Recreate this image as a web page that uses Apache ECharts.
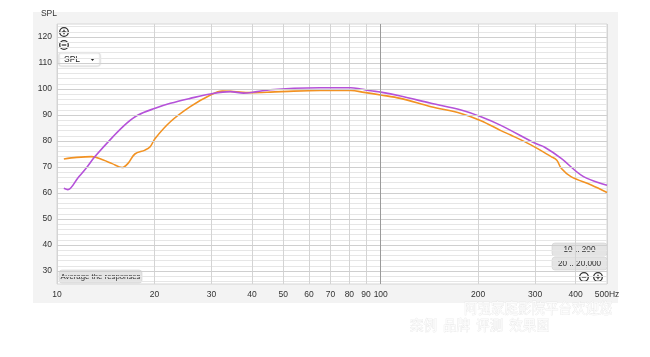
<!DOCTYPE html>
<html><head><meta charset="utf-8">
<script src="https://cdn.jsdelivr.net/npm/echarts@6/dist/echarts.min.js"></script>
<style>html,body{margin:0;padding:0;background:#fff}#c{width:650px;height:357px}</style>
</head><body><div id="c"></div>
<script>
// x tick values (Hz) and labels
const freqTicks = [10,20,30,40,50,60,70,80,90,100,200,300,400,500];
const freqTickLabels = ['10','20','30','40','50','60','70','80','90','100','200','300','400','500Hz'];
const splTicks = [30,40,50,60,70,80,90,100,110,120];
const splMinor = [26,28,30,32,34,36,38,40,42,44,46,48,50,52,54,56,58,60,62,64,66,68,70,72,74,76,78,80,82,84,86,88,90,92,94,96,98,100,102,104,106,108,110,112,114,116,118,120,122,124];

// purple response
const purpleFreq = [10.5,10.8,11.6,12.3,13.1,14.9,16.4,17.8,20.1,22.4,25.8,29.8,34.3,37.7,41.5,45.6,53.9,65,80.8,86.7,93.1,100,115,143,177,204,235,300,321,361,416,469,500];
const purpleSPL  = [61.8,61.3,65.8,69.5,74.0,81.7,86.8,90.0,92.6,94.5,96.4,98.1,99.0,98.4,99.0,99.7,100.3,100.5,100.5,100.0,99.3,98.8,97.3,94.5,91.9,89.3,86.0,79.1,77.6,73.3,66.9,64.0,63.0];
// orange response
const orangeFreq = [10.5,11.5,12.8,13.9,14.8,15.9,16.6,17.4,18.7,19.4,20.1,22.4,25.8,29.8,32.4,35.1,39.6,45.6,53.9,65,80.8,88.8,100,115,143,177,204,235,252,291,336,350,361,387,447,500];
const orangeSPL  = [73.1,73.7,74.0,72.7,71.3,69.8,71.5,75.0,76.5,77.8,81.0,87.4,93.2,97.7,99.2,99.0,98.6,98.8,99.2,99.4,99.4,98.7,97.7,96.4,93.2,90.6,87.8,84.0,82.3,78.5,74.0,72.6,69.5,66.3,63.1,60.2];

const pairs = (f, v) => f.map((x, i) => [x, v[i]]);

const chart = echarts.init(document.getElementById('c'), null, {renderer: 'canvas'});
const font = '"Liberation Sans", Arial, sans-serif';
const btn = (x, y, w, h, text, fs) => ({
  type: 'group', x, y, children: [
    {type: 'rect', shape: {x: 0, y: 0, width: w, height: h, r: 3}, style: {fill: '#e4e4e4', stroke: '#d0d0d0', lineWidth: 0.6}},
    {type: 'text', style: {x: w / 2, y: h / 2 + 0.5, text, align: 'center', verticalAlign: 'middle', fontSize: fs, fontFamily: font, fill: '#333'}}
  ]
});
const circ = (x, y, plus) => ({
  type: 'group', x, y, children: [
    {type: 'circle', shape: {cx: 0, cy: 0, r: 4.3}, style: {fill: '#fff', stroke: '#333', lineWidth: 1.3}},
    {type: 'line', shape: {x1: -2.3, y1: 0, x2: 2.3, y2: 0}, style: {stroke: '#333', lineWidth: 1.3}},
    plus ? {type: 'line', shape: {x1: 0, y1: -2.3, x2: 0, y2: 2.3}, style: {stroke: '#333', lineWidth: 1.3}} : {type: 'group'}
  ]
});

chart.setOption({
  animation: false,
  backgroundColor: '#fff',
  grid: {left: 57, right: 43, top: 24, bottom: 73, show: true, backgroundColor: '#fff', borderColor: '#d6d6d6', borderWidth: 1},
  xAxis: {
    type: 'log', logBase: 10, min: 10, max: 500,
    axisLine: {show: false},
    axisTick: {show: false, customValues: freqTicks},
    axisLabel: {customValues: freqTicks, fontSize: 8.5, fontFamily: font, color: '#333', margin: 6,
      formatter: v => freqTickLabels[freqTicks.indexOf(Math.round(v))] || ''},
    splitLine: {show: true, lineStyle: {color: '#d4d4d4', width: 1}},
    minorSplitLine: {show: false}
  },
  yAxis: {
    type: 'value', min: 25, max: 125,
    name: 'SPL', nameLocation: 'end', nameGap: 6,
    nameTextStyle: {fontSize: 8.5, fontFamily: font, color: '#333', align: 'right', padding: [0, 0, 0, 0]},
    axisLine: {show: false},
    axisTick: {show: false, customValues: splMinor},
    axisLabel: {customValues: splTicks, fontSize: 8.5, fontFamily: font, color: '#333', margin: 5},
    splitLine: {show: true, lineStyle: {color: '#e6e6e6', width: 1}}
  },
  graphic: [
    {type: 'rect', z: -10, silent: true, shape: {x: 33, y: 12, width: 585, height: 291}, style: {fill: '#f3f3f3'}},
    circ(64, 32, true), circ(64, 45, false),
    {type: 'group', x: 59, y: 53, children: [
      {type: 'rect', shape: {x: 0, y: 0, width: 41, height: 13, r: 2}, style: {fill: '#fff', stroke: '#dcdcdc', lineWidth: 0.8, shadowBlur: 2, shadowColor: 'rgba(0,0,0,0.15)'}},
      {type: 'text', style: {x: 5, y: 6.5, text: 'SPL', verticalAlign: 'middle', fontSize: 8.5, fontFamily: font, fill: '#222'}},
      {type: 'polygon', shape: {points: [[31, 5], [36, 5], [33.5, 8]]}, style: {fill: '#222'}}
    ]},
    btn(59, 270, 83, 13, 'Average the responses', 7.8),
    btn(552, 243, 55, 13, '10 .. 200', 8.2),
    btn(552, 257, 55, 13, '20 .. 20,000', 8.2),
    circ(584, 277, false), circ(598, 277, true),
    {type: 'text', silent: true, style: {x: 464, y: 301, text: '阿强家庭影院平台欢迎您', fontSize: 13.5, fontFamily: '"Noto Sans CJK SC", sans-serif', fill: '#fbfbfb', stroke: '#e2e2e2', lineWidth: 0.5}},
    {type: 'text', silent: true, style: {x: 410, y: 318, text: '案例  品牌  评测  效果图', fontSize: 13.5, fontFamily: '"Noto Sans CJK SC", sans-serif', fill: '#fbfbfb', stroke: '#e2e2e2', lineWidth: 0.5}}
  ],
  series: [
    {
      name: 'grid', type: 'line', data: [], silent: true,
      markLine: {silent: true, symbol: 'none', label: {show: false}, animation: false,
        data: splTicks.map(v => ({yAxis: v, lineStyle: {color: '#cfcfcf', width: 1, type: 'solid'}}))
          .concat([{xAxis: 100, lineStyle: {color: '#9a9a9a', width: 1, type: 'solid'}}])}
    },
    {name: 'orange', type: 'line', data: pairs(orangeFreq, orangeSPL), smooth: 0.35, showSymbol: false,
      lineStyle: {color: '#f29222', width: 1.6}, z: 3},
    {name: 'purple', type: 'line', data: pairs(purpleFreq, purpleSPL), smooth: 0.35, showSymbol: false,
      lineStyle: {color: '#b552d9', width: 1.6}, z: 4}
  ]
});
</script></body></html>
